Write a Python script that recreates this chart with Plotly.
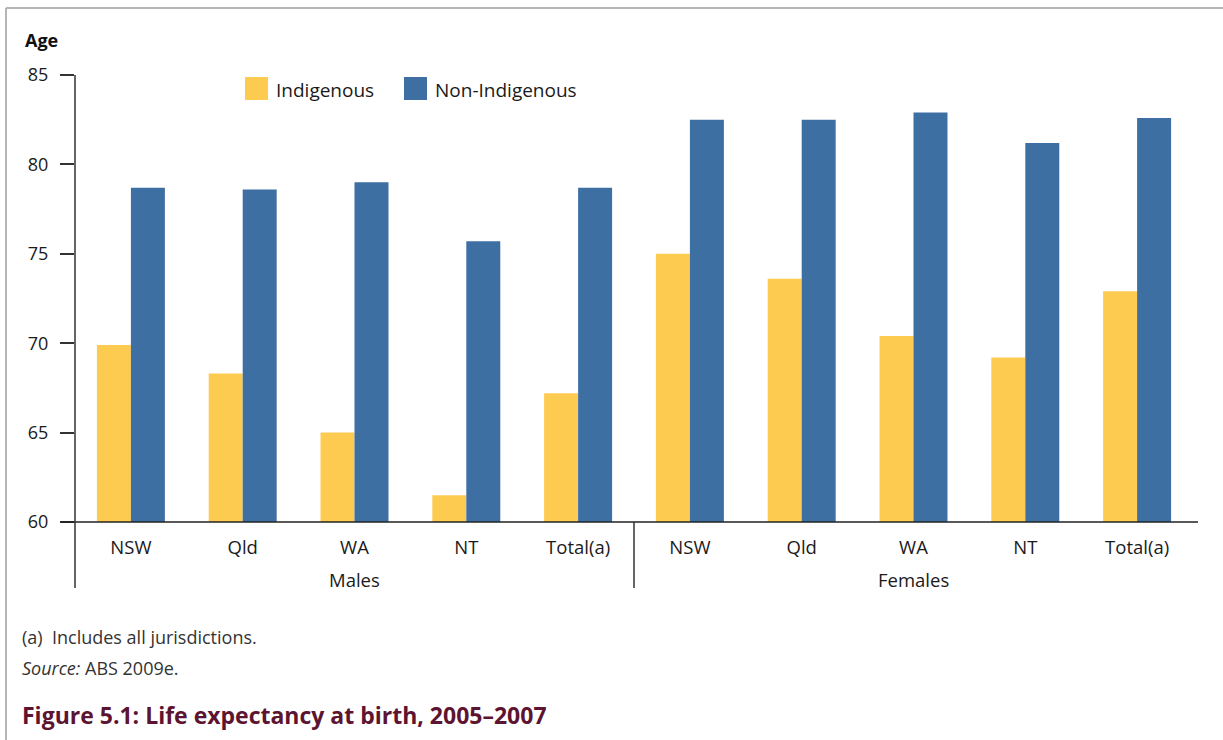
import plotly.graph_objects as go

categories = ["NSW", "Qld", "WA", "NT", "Total(a)", "NSW", "Qld", "WA", "NT", "Total(a)"]
groups = ["Males", "Females"]
indigenous = [69.9, 68.3, 65.0, 61.5, 67.2, 75.0, 73.6, 70.4, 69.2, 72.9]
non_indigenous = [78.7, 78.6, 79.0, 75.7, 78.7, 82.5, 82.5, 82.9, 81.2, 82.6]
y_ticks = [60, 65, 70, 75, 80, 85]

YELLOW = "#FECB51"
BLUE = "#3E6FA3"
FONT = "Open Sans"
TXT = "#1a1a1a"

PL, PW, PT, PH = 75, 1118, 75, 447

xs = list(range(len(categories)))
fig = go.Figure()
fig.add_trace(go.Bar(x=xs, y=[v - 60 for v in indigenous], base=60, name="Indigenous",
                     marker=dict(color=YELLOW, line=dict(width=0))))
fig.add_trace(go.Bar(x=xs, y=[v - 60 for v in non_indigenous], base=60, name="Non-Indigenous",
                     marker=dict(color=BLUE, line=dict(width=0))))

fig.update_layout(
    width=1223, height=740,
    margin=dict(l=PL, r=1223 - PL - PW, t=PT, b=740 - PT - PH),
    paper_bgcolor="white", plot_bgcolor="white",
    barmode="group", bargap=0.392, bargroupgap=0,
    showlegend=False,
    font=dict(family=FONT, size=18, color=TXT),
    xaxis=dict(range=[-0.5, len(categories) - 0.5], tickvals=xs, ticktext=categories,
               showgrid=False, zeroline=False, showline=False,
               ticks="", tickfont=dict(size=18.5, color=TXT), ticklabelstandoff=12),
    yaxis=dict(range=[60, 85], tickvals=y_ticks, showgrid=False, zeroline=False,
               showline=False, ticks="outside", ticklen=14, tickwidth=1.5, tickcolor="#333",
               tickfont=dict(size=18, color=TXT), ticklabelstandoff=8),
)

def px_x(p):
    return (p - PL) / PW

def px_y(p):
    return (PT + PH - p) / PH

shapes = []
# frame
shapes.append(dict(type="line", xref="paper", yref="paper", x0=px_x(6), x1=1.05, y0=px_y(8), y1=px_y(8),
                   line=dict(color="#b5b5b5", width=2)))
shapes.append(dict(type="line", xref="paper", yref="paper", x0=px_x(6), x1=px_x(6), y0=px_y(8), y1=px_y(745),
                   line=dict(color="#b5b5b5", width=2)))
# baseline
shapes.append(dict(type="line", xref="paper", yref="paper", x0=px_x(61), x1=px_x(1198), y0=0, y1=0,
                   line=dict(color="#222", width=1.5)))
# y axis line extended below
shapes.append(dict(type="line", xref="paper", yref="paper", x0=0, x1=0, y0=1, y1=px_y(588),
                   line=dict(color="#333", width=1.5)))
# group divider
shapes.append(dict(type="line", xref="x", yref="paper", x0=4.5, x1=4.5, y0=0, y1=px_y(588),
                   line=dict(color="#333", width=1.5)))
# legend swatches
shapes.append(dict(type="rect", xref="paper", yref="paper", x0=px_x(245), x1=px_x(268), y0=px_y(100), y1=px_y(77),
                   fillcolor=YELLOW, line=dict(width=0)))
shapes.append(dict(type="rect", xref="paper", yref="paper", x0=px_x(404), x1=px_x(427), y0=px_y(100), y1=px_y(77),
                   fillcolor=BLUE, line=dict(width=0)))
fig.update_layout(shapes=shapes)

ann = []
ann.append(dict(text="Indigenous", x=px_x(274), y=px_y(90), xref="paper", yref="paper",
                xanchor="left", yanchor="middle", showarrow=False, font=dict(size=19, color=TXT)))
ann.append(dict(text="Non-Indigenous", x=px_x(433), y=px_y(90), xref="paper", yref="paper",
                xanchor="left", yanchor="middle", showarrow=False, font=dict(size=19, color=TXT)))
ann.append(dict(text="<b>Age</b>", x=px_x(23), y=px_y(40), xref="paper", yref="paper",
                xanchor="left", yanchor="middle", showarrow=False, font=dict(size=18, color="#111")))
ann.append(dict(text=groups[0], x=2, y=px_y(579), xref="x", yref="paper",
                xanchor="center", yanchor="middle", showarrow=False, font=dict(size=18.5, color=TXT)))
ann.append(dict(text=groups[1], x=7, y=px_y(579), xref="x", yref="paper",
                xanchor="center", yanchor="middle", showarrow=False, font=dict(size=18.5, color=TXT)))
ann.append(dict(text="(a)\u00a0\u00a0Includes all jurisdictions.", x=px_x(20), y=px_y(637), xref="paper", yref="paper",
                xanchor="left", yanchor="middle", showarrow=False, font=dict(size=18, color="#333")))
ann.append(dict(text="<i>Source:</i> ABS 2009e.", x=px_x(20), y=px_y(668), xref="paper", yref="paper",
                xanchor="left", yanchor="middle", showarrow=False, font=dict(size=18, color="#333")))
ann.append(dict(text="<b>Figure 5.1: Life expectancy at birth, 2005–2007</b>", x=px_x(20), y=px_y(715),
                xref="paper", yref="paper", xanchor="left", yanchor="middle", showarrow=False,
                font=dict(size=23, color="#5C1430")))
fig.update_layout(annotations=ann)

fig.write_html("out.html", config={"displayModeBar": False},
               post_script="document.body.style.margin='0';document.body.style.overflow='hidden';")
